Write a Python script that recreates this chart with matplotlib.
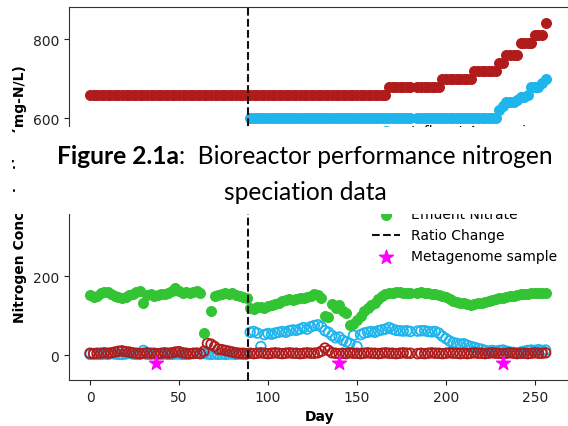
import matplotlib
matplotlib.use("Agg")
import matplotlib.pyplot as plt
from matplotlib.patches import Rectangle

nan = float("nan")

# Sampling days for the effluent series and influent nitrite
days = [
    0, 2, 4, 6, 8, 10, 12, 14, 16, 18, 20, 22, 24, 26, 28, 30,
    32, 34, 36, 38, 40, 42, 44, 46, 48, 50, 52, 54, 56, 58, 60, 62,
    64, 66, 68, 70, 72, 74, 76, 78, 80, 82, 84, 86, 88,
    90, 92, 94, 96, 98, 100, 102, 104, 106, 108, 110, 112, 114, 116, 118,
    120, 122, 124, 126, 128, 130, 132, 134, 136, 138, 140, 142, 144, 146, 148,
    150, 152, 154, 156, 158, 160, 162, 164, 166, 168, 170, 172, 174, 176, 178, 180,
    184, 186, 188, 190, 192, 194, 196, 198, 200, 202, 204, 206, 208, 210, 212,
    214, 216, 218, 220, 222, 224, 226, 228, 230, 232, 234, 236, 238, 240, 242,
    244, 246, 248, 250, 252, 254, 256,
]

influent_nitrite = [
    660, 660, 660, 660, 660, 660, 660, 660, 660, 660, 660, 660, 660, 660, 660, 660,
    660, 660, 660, 660, 660, 660, 660, 660, 660, 660, 660, 660, 660, 660, 660, 660,
    660, 660, 660, 660, 660, 660, 660, 660, 660, 660, 660, 660, 660,
    660, 660, 660, 660, 660, 660, 660, 660, 660, 660, 660, 660, 660, 660, 660,
    660, 660, 660, 660, 660, 660, 660, 660, 660, 660, 660, 660, 660, 660, 660,
    660, 660, 660, 660, 660, 660, 660, 660, 660, 680, 680, 680, 680, 680, 680, 680,
    680, 680, 680, 680, 680, 680, 680, 700, 700, 700, 700, 700, 700, 700, 700,
    700, 720, 720, 720, 720, 720, 720, 720, 740, 740, 760, 760, 760, 760, 790,
    790, 790, 790, 810, 810, 810, 840,
]

effluent_ammonia = [
    2, 3, 2, 2, 3, 2, 4, 3, 2, 2, 3, 5, 3, 2, 2, 12,
    2, 2, 3, 2, 2, 3, 2, 2, 3, 3, 2, 2, 3, 4, 5, 4,
    4, 3, 2, 3, 2, 3, 2, 3, 3, 2, 3, 2, 3,
    58, 60, 56, 22, 52, 55, 53, 56, 58, 60, 58, 62, 64, 63, 66,
    70, 66, 72, 75, 77, 72, 62, 58, 50, 44, 46, 38, 34, 30, 50,
    22, 52, 56, 58, 60, 58, 62, 64, 66, 70, 66, 63, 62, 61, 62, 60,
    61, 62, 62, 60, 59, 60, 56, 48, 42, 36, 32, 30, 28, 29, 25,
    22, 20, 17, 15, 12, 10, 12, 10, 12, 13, 10, 8, 7, 6, 8,
    10, 12, 13, 12, 14, 12, 13,
]

effluent_nitrite = [
    5, 4, 5, 5, 6, 5, 6, 8, 10, 11, 9, 8, 6, 5, 4, 5,
    6, 5, 5, 4, 5, 6, 5, 6, 8, 9, 6, 5, 4, 5, 5, 4,
    10, 30, 28, 22, 15, 14, 12, 10, 8, 6, 5, 5, 4,
    5, 4, 5, 6, 5, 4, 5, 6, 5, 4, 5, 6, 5, 5, 4,
    5, 6, 5, 5, 6, 10, 18, 12, 6, 5, 4, 5, 4, 6, 5,
    5, 4, 5, 6, 5, 5, 4, 5, 6, 5, 5, 4, 5, 6, 5, 5,
    4, 5, 4, 5, 6, 5, 5, 4, 5, 6, 5, 5, 4, 5, 4,
    5, 6, 5, 5, 4, 5, 6, 5, 5, 4, 5, 6, 5, 4, 5,
    5, 4, 5, 6, 5, 5, 6,
]

effluent_nitrate = [
    152, 148, 150, 157, 160, 160, 156, 150, 147, 146, 148, 152, 155, 160, 162, 131,
    152, 155, 150, 152, 154, 156, 158, 163, 170, 162, 158, 160, 157, 160, 162, 158,
    55, nan, 113, 150, 153, 155, 157, 156, 157, 153, 150, 147, 145,
    120, 118, 121, 122, 120, 124, 127, 130, 133, 137, 140, 142, 140, 142, 145,
    146, 148, 150, 155, 152, 146, 100, 96, 130, 120, 126, 112, 108, 76, 80,
    90, 100, 112, 120, 127, 133, 142, 150, 155, 157, 158, 160, 160, 158, 158, 157,
    158, 160, 158, 157, 156, 155, 152, 150, 147, 143, 138, 135, 133, 131, 130,
    128, 130, 131, 133, 135, 137, 139, 142, 144, 146, 148, 150, 151, 153, 154,
    155, 156, 157, 158, 157, 158, 158,
]

# Influent ammonia is only fed after the ratio change
ammonia_days = [
    90, 92, 94, 96, 98, 100, 102, 104, 106, 108, 110, 112, 114, 116, 118,
    120, 122, 124, 126, 128, 130, 132, 134, 136, 138, 140, 142, 144, 146, 148,
    150, 152, 154, 156, 158, 160, 162, 164, 166, 168, 170, 172, 174, 176, 178, 180,
    184, 186, 188, 190, 192, 194, 196, 198, 200, 202, 204, 206, 208, 210, 212,
    214, 216, 218, 220, 222, 224, 226, 228, 230, 232, 234, 236, 238, 240, 242,
    244, 246, 248, 250, 252, 254, 256,
]
influent_ammonia = [
    600, 600, 600, 600, 600, 600, 600, 600, 600, 600, 600, 600, 600, 600, 600,
    600, 600, 600, 600, 600, 600, 600, 600, 600, 600, 600, 600, 600, 600, 600,
    600, 600, 600, 600, 600, 600, 600, 600, 600, 600, 600, 600, 600, 600, 600, 600,
    600, 600, 600, 600, 600, 600, 600, 600, 600, 600, 600, 600, 600, 600, 600,
    600, 600, 600, 600, 600, 600, 600, 600, 620, 630, 640, 640, 640, 645, 655,
    655, 660, 678, 678, 680, 690, 700,
]

ratio_change_day = 89
sample_days = [37, 140, 232]
sample_marks = [-20, -20, -20]

x_ticks = [0, 50, 100, 150, 200, 250]
y_ticks = [0, 200, 400, 600, 800]

RED = "#b01c1c"
BLUE = "#1eb4ec"
GREEN = "#33c433"
MAGENTA = "#ff00ff"

W, H = 568, 427
fig = plt.figure(figsize=(W / 100, H / 100), dpi=100)
ax = fig.add_axes([69 / W, 46 / H, 501 / W, 373 / H])

ms = 48
ax.scatter(ammonia_days, influent_ammonia, s=ms, color=BLUE, label="Influent Ammonia", zorder=2)
ax.scatter(days, influent_nitrite, s=ms, color=RED, label="Influent Nitrite", zorder=2)
ax.scatter(days, effluent_ammonia, s=ms, facecolors="none", edgecolors=BLUE,
           linewidths=1.3, label="Effluent Ammonia", zorder=2)
ax.scatter(days, effluent_nitrite, s=ms, facecolors="none", edgecolors=RED,
           linewidths=1.3, label="Effluent Nitrite", zorder=2)
ax.scatter(days, effluent_nitrate, s=ms, color=GREEN, label="Effluent Nitrate", zorder=2)
ax.axvline(ratio_change_day, color="#111111", linestyle="--", linewidth=1.5,
           label="Ratio Change", zorder=3)
ax.scatter(sample_days, sample_marks, s=110, marker="*", color=MAGENTA,
           label="Metagenome sample", zorder=4)

ax.set_xlim(-11.8, 269.7)
ax.set_ylim(-62.8, 881.7)
ax.set_xticks(x_ticks)
ax.set_yticks(y_ticks)
ax.tick_params(labelsize=10, colors="#222222")
ax.set_xlabel("Day", fontsize=10, fontweight="bold")
ax.set_ylabel("Nitrogen Concentration (mg-N/L)", fontsize=10, fontweight="bold")
for s in ax.spines.values():
    s.set_color("#333333")

ax.legend(loc="center right", fontsize=10, frameon=False, scatterpoints=1)

# Caption panel laid over the plot
fig.add_artist(Rectangle((15 / W, (H - 215) / H), 1.0, 87 / H,
                         transform=fig.transFigure, facecolor="white",
                         edgecolor="none", zorder=10))

cap_font = "Lato"
cap_size = 17.7
renderer = fig.canvas.get_renderer()
t_bold = fig.text(0, (H - 164) / H, "Figure 2.1a", fontsize=cap_size,
                  fontweight="bold", family=cap_font, zorder=11, va="baseline")
t_reg = fig.text(0, (H - 164) / H, ":  Bioreactor performance nitrogen",
                 fontsize=cap_size, family=cap_font, zorder=11, va="baseline")
wb = t_bold.get_window_extent(renderer).width
wr = t_reg.get_window_extent(renderer).width
x0 = 305 - (wb + wr) / 2
t_bold.set_x(x0 / W)
t_reg.set_x((x0 + wb) / W)
fig.text(305 / W, (H - 200) / H, "speciation data", fontsize=cap_size,
         family=cap_font, zorder=11, ha="center", va="baseline")

fig.savefig("out.png", dpi=100)
